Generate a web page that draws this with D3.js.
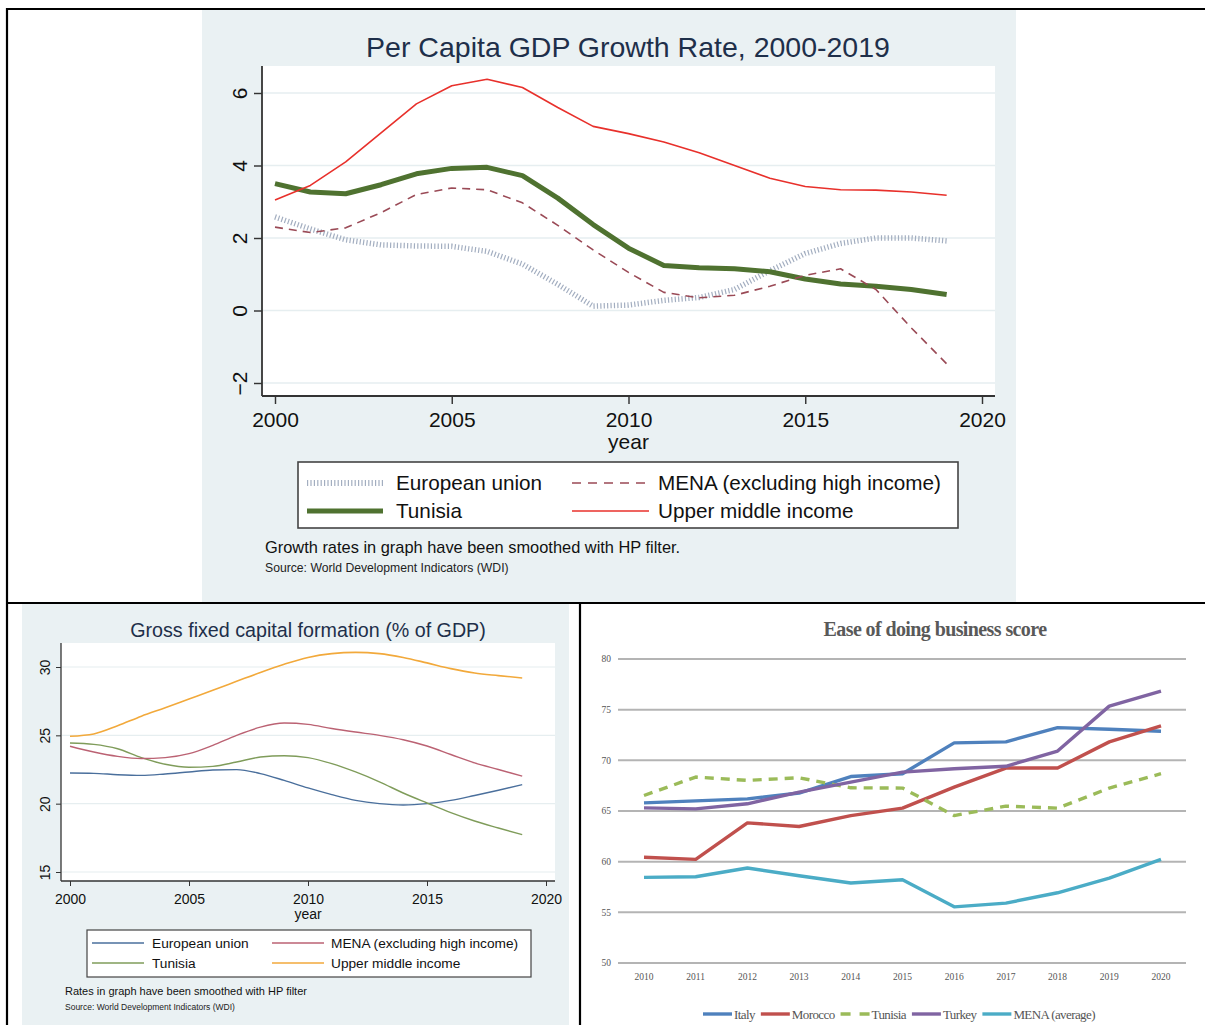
<!DOCTYPE html>
<html>
<head>
<meta charset="utf-8">
<script src="https://cdn.jsdelivr.net/npm/d3@7"></script>
<style>
  body { margin: 0; background: #fff; }
  svg { display: block; }
</style>
</head>
<body>
<div id="chart"></div>
<script>
// ---- data: per capita GDP growth (HP smoothed), 2000-2019 ----
const years = [2000, 2001, 2002, 2003, 2004, 2005, 2006, 2007, 2008, 2009,
               2010, 2011, 2012, 2013, 2014, 2015, 2016, 2017, 2018, 2019];
const yearTicks = [2000, 2005, 2010, 2015, 2020];

const gdpEU      = [2.58, 2.25, 1.95, 1.81, 1.78, 1.77, 1.63, 1.28, 0.72, 0.12,
                    0.15, 0.28, 0.36, 0.58, 1.1, 1.57, 1.85, 2.0, 2.0, 1.92];
const gdpTunisia = [3.5, 3.27, 3.22, 3.47, 3.77, 3.92, 3.95, 3.72, 3.1, 2.37,
                    1.72, 1.24, 1.18, 1.15, 1.07, 0.87, 0.73, 0.67, 0.58, 0.44];
const gdpMENA    = [2.3, 2.15, 2.28, 2.7, 3.2, 3.38, 3.33, 2.97, 2.35, 1.67,
                    1.05, 0.5, 0.35, 0.42, 0.67, 0.97, 1.15, 0.58, -0.48, -1.47];
const gdpUMI     = [3.05, 3.45, 4.1, 4.9, 5.7, 6.2, 6.38, 6.15, 5.6, 5.08,
                    4.88, 4.65, 4.35, 4.0, 3.65, 3.42, 3.33, 3.32, 3.27, 3.18];

// ---- data: gross fixed capital formation (% of GDP) ----
const gfcfEU      = [22.24, 22.22, 22.12, 22.07, 22.17, 22.32, 22.46, 22.49, 22.2, 21.7,
                     21.15, 20.66, 20.24, 20.0, 19.9, 20.0, 20.24, 20.6, 20.98, 21.39];
const gfcfTunisia = [24.44, 24.34, 24.02, 23.37, 22.88, 22.66, 22.73, 23.05, 23.41, 23.51,
                     23.37, 22.93, 22.32, 21.6, 20.78, 20.05, 19.34, 18.73, 18.22, 17.73];
const gfcfMENA    = [24.2, 23.78, 23.46, 23.3, 23.37, 23.66, 24.27, 25.0, 25.6, 25.9,
                     25.8, 25.5, 25.24, 25.0, 24.68, 24.22, 23.6, 22.98, 22.5, 22.02];
const gfcfUMI     = [24.93, 25.1, 25.7, 26.4, 27.02, 27.66, 28.3, 28.95, 29.6, 30.2,
                     30.7, 30.98, 31.07, 30.98, 30.7, 30.3, 29.88, 29.56, 29.37, 29.2];

// ---- data: ease of doing business score ----
const edbYears   = ["2010", "2011", "2012", "2013", "2014", "2015", "2016", "2017", "2018", "2019", "2020"];
const edbTicks   = [50, 55, 60, 65, 70, 75, 80];
const edbItaly   = [65.8, 66.0, 66.2, 66.77, 68.4, 68.68, 71.72, 71.82, 73.23, 73.07, 72.87];
const edbMorocco = [60.43, 60.23, 63.83, 63.47, 64.55, 65.28, 67.36, 69.24, 69.24, 71.82, 73.4];
const edbTunisia = [66.53, 68.35, 68.02, 68.28, 67.29, 67.26, 64.55, 65.48, 65.28, 67.26, 68.68];
const edbTurkey  = [65.31, 65.21, 65.71, 66.86, 67.85, 68.84, 69.17, 69.41, 70.92, 75.35, 76.83];
const edbMENA    = [58.45, 58.51, 59.37, 58.61, 57.89, 58.22, 55.54, 55.91, 56.93, 58.38, 60.23];


const svg = d3.select('#chart').append('svg')
  .attr('width', 1205)
  .attr('height', 1025);

svg.append('rect').attr('width', 1205).attr('height', 1025).attr('fill', '#fff');

const STATA_BG = '#eaf1f3';
const SANS = 'Liberation Sans, Arial, sans-serif';
const SERIF = 'Liberation Serif, Times New Roman, serif';

// draws one Stata-style (s2color) graph
function stataChart(o) {
  const g = svg.append('g');

  g.append('rect')
    .attr('x', o.bg[0]).attr('y', o.bg[1])
    .attr('width', o.bg[2] - o.bg[0]).attr('height', o.bg[3] - o.bg[1])
    .attr('fill', STATA_BG);

  g.append('rect')
    .attr('x', o.plot[0]).attr('y', o.plot[1])
    .attr('width', o.plot[2] - o.plot[0]).attr('height', o.plot[3] - o.plot[1])
    .attr('fill', '#fff');

  const x = d3.scaleLinear().domain([2000, 2020]).range(o.xRange);
  const y = d3.scaleLinear().domain(o.yDomain).range(o.yRange);

  // gridlines
  g.selectAll('line.grid').data(o.yTicks).enter().append('line')
    .attr('x1', o.plot[0] + 1).attr('x2', o.plot[2])
    .attr('y1', d => y(d)).attr('y2', d => y(d))
    .attr('stroke', '#e6eef0').attr('stroke-width', o.gridW);

  // y axis
  const yAxis = d3.axisLeft(y).tickValues(o.yTicks).tickSize(o.tickLen).tickPadding(0).tickFormat(d3.format('d'));
  const ya = g.append('g').attr('transform', `translate(${o.plot[0]},0)`).call(yAxis);
  ya.select('.domain').attr('d', `M0,${o.plot[1]}V${o.plot[3]}`).attr('stroke', '#333').attr('stroke-width', o.axisW);
  ya.selectAll('.tick line').attr('stroke', '#333').attr('stroke-width', o.axisW * 0.8);
  ya.selectAll('.tick text')
    .attr('x', null).attr('dy', null)
    .attr('transform', `translate(${o.yLabelX - o.plot[0]},0) rotate(-90)`)
    .attr('text-anchor', 'middle')
    .attr('dominant-baseline', 'central')
    .attr('font-family', SANS).attr('font-size', o.tickSize).attr('fill', '#111');

  // x axis
  const xAxis = d3.axisBottom(x).tickValues(yearTicks).tickSize(o.tickLen).tickPadding(0).tickFormat(d3.format('d'));
  const xa = g.append('g').attr('transform', `translate(0,${o.plot[3]})`).call(xAxis);
  xa.select('.domain').attr('d', `M${o.plot[0]},0H${o.plot[2]}`).attr('stroke', '#333').attr('stroke-width', o.axisW);
  xa.selectAll('.tick line').attr('stroke', '#333').attr('stroke-width', o.axisW * 0.8);
  xa.selectAll('.tick text')
    .attr('y', o.xLabelY - o.plot[3]).attr('dy', '0.35em')
    .attr('font-family', SANS).attr('font-size', o.tickSize).attr('fill', '#111');
  ya.attr('font-family', null);
  xa.attr('font-family', null);

  g.append('text')
    .attr('x', x(2010)).attr('y', o.yearY).attr('dy', '0.35em')
    .attr('text-anchor', 'middle')
    .attr('font-family', SANS).attr('font-size', o.tickSize).attr('fill', '#111')
    .text('year');

  // title
  g.append('text')
    .attr('x', o.titleX).attr('y', o.titleY).attr('dy', '0.35em')
    .attr('text-anchor', 'middle')
    .attr('font-family', SANS).attr('font-size', o.titleSize).attr('fill', '#1e2f4a')
    .text(o.title);

  // series
  const line = d3.line()
    .x((d, i) => x(years[i]))
    .y(d => y(d))
    .curve(o.curve);

  o.series.forEach(s => {
    g.append('path')
      .datum(s.values)
      .attr('d', line)
      .attr('fill', 'none')
      .attr('stroke', s.color)
      .attr('stroke-width', s.width)
      .attr('stroke-dasharray', s.dash || null)
      .attr('stroke-linejoin', 'round');
  });

  // legend
  const L = o.legend;
  g.append('rect')
    .attr('x', L.box[0]).attr('y', L.box[1])
    .attr('width', L.box[2] - L.box[0]).attr('height', L.box[3] - L.box[1])
    .attr('fill', '#fff').attr('stroke', '#444').attr('stroke-width', L.boxW);

  L.order.forEach((si, k) => {
    const s = o.series[si];
    const col = L.cols[k % 2];
    const ry = L.rows[Math.floor(k / 2)];
    g.append('line')
      .attr('x1', col[0]).attr('x2', col[1]).attr('y1', ry).attr('y2', ry)
      .attr('stroke', s.color).attr('stroke-width', s.legendWidth || s.width)
      .attr('stroke-dasharray', s.legendDash || s.dash || null);
    g.append('text')
      .attr('x', col[2]).attr('y', ry).attr('dy', '0.35em')
      .attr('font-family', SANS).attr('font-size', L.fontSize).attr('fill', '#111')
      .text(s.name);
  });

  g.append('text')
    .attr('x', o.note.x).attr('y', o.note.y).attr('dy', '0.35em')
    .attr('font-family', SANS).attr('font-size', o.note.size).attr('fill', '#111')
    .text(o.note.text);
  g.append('text')
    .attr('x', o.source.x).attr('y', o.source.y).attr('dy', '0.35em')
    .attr('font-family', SANS).attr('font-size', o.source.size).attr('fill', '#222')
    .text('Source: World Development Indicators (WDI)');
}

// top: per capita GDP growth
stataChart({
  bg: [202, 10, 1016, 602],
  plot: [262, 66, 995, 396],
  xRange: [275, 982],
  yDomain: [-2, 6], yRange: [383, 93],
  yTicks: [-2, 0, 2, 4, 6],
  tickLen: 8, axisW: 1.8, gridW: 1.6,
  tickSize: 21, yLabelX: 239, xLabelY: 420, yearY: 442,
  title: 'Per Capita GDP Growth Rate, 2000-2019', titleX: 628, titleY: 47, titleSize: 28.5,
  curve: d3.curveLinear,
  series: [
    { name: 'European union', values: gdpEU, color: '#a3aec0', width: 5.5, dash: '1.2,2.2', legendWidth: 6 },
    { name: 'Tunisia', values: gdpTunisia, color: '#4f7230', width: 5 },
    { name: 'MENA (excluding high income)', values: gdpMENA, color: '#9a4a56', width: 1.6, dash: '8,6', legendDash: '9,7' },
    { name: 'Upper middle income', values: gdpUMI, color: '#e8302b', width: 1.6 }
  ],
  legend: {
    box: [298, 462, 958, 528], boxW: 1.6,
    rows: [483, 511],
    cols: [[307, 383, 396], [572, 649, 658]],
    order: [0, 2, 1, 3],
    fontSize: 20.7
  },
  note: { text: 'Growth rates in graph have been smoothed with HP filter.', x: 265, y: 547, size: 16.4 },
  source: { x: 265, y: 568, size: 12.2 }
});

// bottom left: gross fixed capital formation
stataChart({
  bg: [22, 604, 569, 1025],
  plot: [61, 643, 555, 881],
  xRange: [70, 546],
  yDomain: [15, 30], yRange: [872, 667],
  yTicks: [15, 20, 25, 30],
  tickLen: 5, axisW: 1.3, gridW: 1.2,
  tickSize: 14, yLabelX: 45, xLabelY: 899, yearY: 914,
  title: 'Gross fixed capital formation (% of GDP)', titleX: 308, titleY: 630, titleSize: 19.7,
  curve: d3.curveMonotoneX,
  series: [
    { name: 'European union', values: gfcfEU, color: '#4a6f9c', width: 1.4 },
    { name: 'Tunisia', values: gfcfTunisia, color: '#7f9c5a', width: 1.4 },
    { name: 'MENA (excluding high income)', values: gfcfMENA, color: '#bb6273', width: 1.4 },
    { name: 'Upper middle income', values: gfcfUMI, color: '#f2a93b', width: 1.6 }
  ],
  legend: {
    box: [87, 930, 531, 977], boxW: 1.2,
    rows: [943, 963],
    cols: [[92, 144, 152], [272, 324, 331]],
    order: [0, 2, 1, 3],
    fontSize: 13.7
  },
  note: { text: 'Rates in graph have been smoothed with HP filter', x: 65, y: 991, size: 11 },
  source: { x: 65, y: 1007, size: 8.5 }
});

// bottom right: ease of doing business score
(function() {
  const g = svg.append('g');
  const x = d3.scalePoint().domain(edbYears).range([644, 1161]);
  const y = d3.scaleLinear().domain([50, 80]).range([963, 659]);

  g.selectAll('line.grid').data(edbTicks).enter().append('line')
    .attr('x1', 618).attr('x2', 1186)
    .attr('y1', d => y(d)).attr('y2', d => y(d))
    .attr('stroke', '#b4b4b4').attr('stroke-width', 2);

  g.selectAll('text.ylab').data(edbTicks).enter().append('text')
    .attr('x', 611).attr('y', d => y(d)).attr('dy', '0.35em')
    .attr('text-anchor', 'end')
    .attr('font-family', SERIF).attr('font-size', 9.5).attr('fill', '#555')
    .text(d => d);

  g.selectAll('text.xlab').data(edbYears).enter().append('text')
    .attr('x', d => x(d)).attr('y', 977).attr('dy', '0.35em')
    .attr('text-anchor', 'middle')
    .attr('font-family', SERIF).attr('font-size', 9.5).attr('fill', '#555')
    .text(d => d);

  g.append('text')
    .attr('x', 935).attr('y', 629).attr('dy', '0.35em')
    .attr('text-anchor', 'middle')
    .attr('font-family', SERIF).attr('font-size', 20).attr('font-weight', 'bold')
    .attr('letter-spacing', -0.6).attr('fill', '#595959')
    .text('Ease of doing business score');

  const series = [
    { name: 'Italy', values: edbItaly, color: '#4f81bd' },
    { name: 'Morocco', values: edbMorocco, color: '#c0504d' },
    { name: 'Tunisia', values: edbTunisia, color: '#9bbb59', dash: '9,7' },
    { name: 'Turkey', values: edbTurkey, color: '#8064a2' },
    { name: 'MENA (average)', values: edbMENA, color: '#4bacc6' }
  ];

  const line = d3.line()
    .x((d, i) => x(edbYears[i]))
    .y(d => y(d));

  series.forEach(s => {
    g.append('path')
      .datum(s.values)
      .attr('d', line)
      .attr('fill', 'none')
      .attr('stroke', s.color)
      .attr('stroke-width', 3.4)
      .attr('stroke-dasharray', s.dash || null)
      .attr('stroke-linejoin', 'round');
  });

  // legend along the bottom
  let lx = 703;
  const ly = 1014;
  series.forEach(s => {
    g.append('line')
      .attr('x1', lx).attr('x2', lx + 29).attr('y1', ly).attr('y2', ly)
      .attr('stroke', s.color).attr('stroke-width', 3.4)
      .attr('stroke-dasharray', s.dash ? '10,9' : null);
    const t = g.append('text')
      .attr('x', lx + 31).attr('y', ly).attr('dy', '0.35em')
      .attr('font-family', SERIF).attr('font-size', 13).attr('letter-spacing', -0.6)
      .attr('fill', '#555')
      .text(s.name);
    lx += 31 + t.node().getComputedTextLength() + 6;
  });
})();

// table borders around the three panels
const borders = svg.append('g').attr('stroke', '#000').attr('stroke-width', 2.2);
borders.append('line').attr('x1', 7).attr('x2', 1205).attr('y1', 9).attr('y2', 9);
borders.append('line').attr('x1', 7).attr('x2', 7).attr('y1', 8).attr('y2', 1025);
borders.append('line').attr('x1', 7).attr('x2', 1205).attr('y1', 603).attr('y2', 603);
borders.append('line').attr('x1', 580).attr('x2', 580).attr('y1', 603).attr('y2', 1025);
</script>
</body>
</html>
